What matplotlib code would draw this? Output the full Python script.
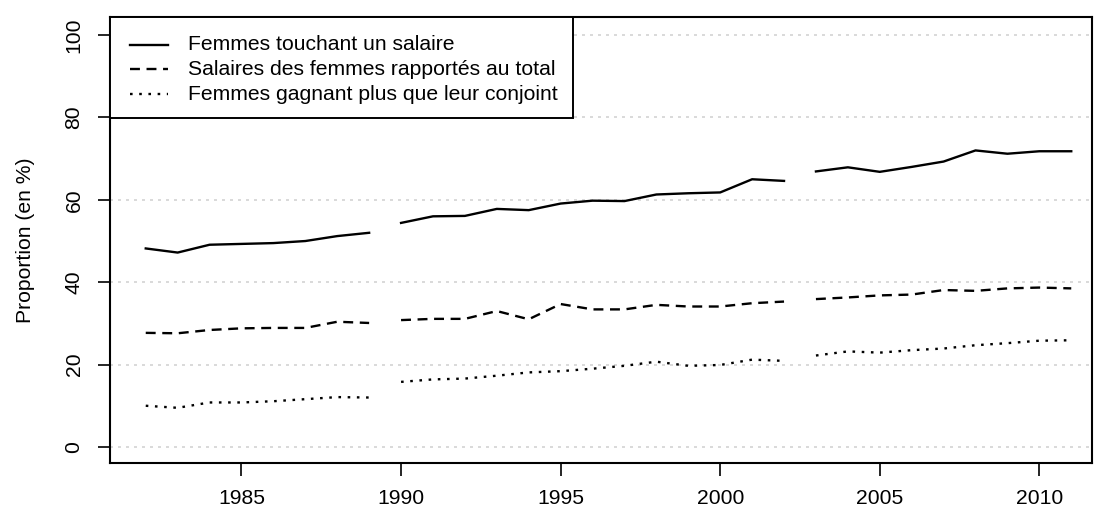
import numpy as np
import matplotlib
matplotlib.use("Agg")
import matplotlib.pyplot as plt
from matplotlib.lines import Line2D
from matplotlib.patches import Rectangle

plt.rcParams['font.family'] = ['Liberation Sans', 'DejaVu Sans']

years = list(range(1982, 2012))
femmes_salaire = [48.2, 47.2, 49.1, 49.3, 49.5, 50.0, 51.2, 52.0,
                  54.4, 56.0, 56.1, 57.8, 57.5, 59.1, 59.8, 59.7, 61.3, 61.6, 61.8, 65.0, 64.6,
                  66.9, 67.9, 66.8, 68.0, 69.3, 72.0, 71.2, 71.8, 71.8]
salaires_total = [27.7, 27.6, 28.4, 28.8, 28.9, 28.9, 30.4, 30.1,
                  30.8, 31.1, 31.1, 33.0, 31.0, 34.7, 33.4, 33.4, 34.5, 34.1, 34.1, 34.9, 35.3,
                  35.9, 36.3, 36.8, 37.0, 38.1, 37.9, 38.5, 38.7, 38.5]
gagnant_plus = [10.0, 9.5, 10.8, 10.8, 11.1, 11.6, 12.1, 12.0,
                15.8, 16.4, 16.6, 17.3, 18.1, 18.4, 19.0, 19.7, 20.7, 19.7, 19.9, 21.2, 20.9,
                22.2, 23.2, 22.9, 23.5, 23.9, 24.7, 25.2, 25.8, 25.9]
segment_starts = [1982, 1990, 2003]
labels = ["Femmes touchant un salaire",
          "Salaires des femmes rapportés au total",
          "Femmes gagnant plus que leur conjoint"]
yticks = [0, 20, 40, 60, 80, 100]
xticks = [1985, 1990, 1995, 2000, 2005, 2010]

W, H = 1094, 511
FS = 15.2
LW = 1.7
fig = plt.figure(figsize=(W / 100, H / 100), dpi=100)
ax = fig.add_axes([110/W, 48/H, (1092-110)/W, (463-17)/H])

for yv in yticks:
    ax.axhline(yv, color='#d3d3d3', lw=1.2, linestyle=(0, (1.8, 3)), zorder=1)

yrs = np.array(years)
styles = [dict(linestyle='-'),
          dict(linestyle=(0, (4.2, 2.8))),
          dict(linestyle=(0, (1.1, 2.8)))]
series = [femmes_salaire, salaires_total, gagnant_plus]
bounds = segment_starts + [years[-1] + 1]
for vals, st in zip(series, styles):
    v = np.array(vals)
    for a, b in zip(bounds[:-1], bounds[1:]):
        m = (yrs >= a) & (yrs < b)
        ax.plot(yrs[m], v[m], color='black', lw=LW, zorder=3, **st)

ax.set_xlim(1980.88, 2011.65)
ax.set_ylim(-3.9, 104.4)
ax.set_xticks(xticks)
ax.set_yticks(yticks)
ax.set_yticklabels([str(t) for t in yticks], rotation=90, va='center')
ax.tick_params(axis='both', direction='out', length=9, width=1.2, labelsize=FS)
ax.tick_params(axis='x', pad=10)
ax.tick_params(axis='y', pad=10)
for s in ax.spines.values():
    s.set_linewidth(1.5)
ax.set_ylabel("Proportion (en %)", fontsize=FS, labelpad=21)

# legend box (R-style), laid out in pixel units
def fx(px):
    return px / W

def fy(py):
    return 1 - py / H

fig.add_artist(Rectangle((fx(110), fy(118)), fx(573) - fx(110), fy(17) - fy(118),
                         transform=fig.transFigure, facecolor='white',
                         edgecolor='black', lw=1.4, zorder=5))
row_y = [45, 69.5, 94]
for yy, st, lab in zip(row_y, styles, labels):
    fig.add_artist(Line2D([fx(130), fx(168)], [fy(yy), fy(yy)], transform=fig.transFigure,
                          color='black', lw=LW, zorder=6, **st))
    fig.text(fx(188), fy(yy), lab, fontsize=FS, va='center', ha='left', zorder=6)

fig.savefig("out.png", dpi=100)
